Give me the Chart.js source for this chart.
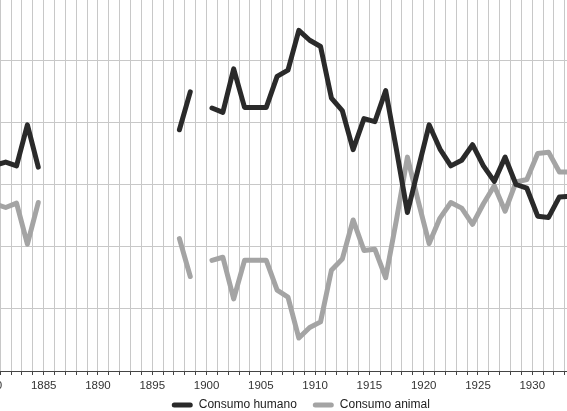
<!DOCTYPE html>
<html>
<head>
<meta charset="utf-8">
<script src="https://cdn.jsdelivr.net/npm/chart.js@4"></script>
<style>
    html, body { margin: 0; padding: 0; width: 567px; height: 411px; overflow: hidden; background: #fff; }
    #chart { position: absolute; left: -60px; top: -10px; }
</style>
</head>
<body>
<canvas id="chart" width="680" height="445"></canvas>
<script>
// years 1880..1933, null = no data
const years = [];
for (let y = 1880; y <= 1933; y++) years.push(y);

const humano = [
    53.1, 53.6, 53.0, 59.6, 52.8,                                 // 1880-1884
    null, null, null, null, null, null, null, null, null, null, null, null, // 1885-1896
    58.8, 64.9, null,                                             // 1897-1899
    62.3, 61.6, 68.6, 62.4, 62.4, 62.4, 67.4, 68.4, 74.8, 73.2,   // 1900-1909
    72.2, 63.9, 61.9, 55.6, 60.6, 60.1, 65.1, 55.5, 45.5, 52.6,   // 1910-1919
    59.6, 55.7, 53.0, 53.9, 56.4, 53.0, 50.5, 54.4, 50.0, 49.4,   // 1920-1929
    44.9, 44.7, 48.0, 48.1                                        // 1930-1933
];

const animal = [
    46.9, 46.3, 47.0, 40.4, 47.1,
    null, null, null, null, null, null, null, null, null, null, null, null,
    41.3, 35.2, null,
    37.8, 38.3, 31.6, 37.8, 37.8, 37.8, 33.0, 31.9, 25.3, 27.0,
    27.9, 36.2, 38.0, 44.3, 39.4, 39.6, 35.0, 44.4, 54.4, 47.3,
    40.5, 44.6, 47.1, 46.2, 43.6, 46.9, 49.8, 45.7, 50.4, 50.8,
    55.0, 55.2, 52.0, 52.0
];

const labelEvery = 5;
const MID_YEAR = 0.5; // values are plotted in the middle of each year

const FONT = "'Liberation Sans', Arial, sans-serif";

function points(values) {
    return years.map((yr, i) => ({ x: yr + MID_YEAR, y: values[i] }));
}

const lineStyle = {
    borderWidth: 5,
    borderCapStyle: 'round',
    borderJoinStyle: 'round',
    pointRadius: 0,
    tension: 0,
    spanGaps: false
};

// pull the legend a bit closer to the axis labels
const legendNudge = {
    id: 'legendNudge',
    afterLayout(chart) {
        chart.legend.top -= 13.8;
        chart.legend.bottom -= 13.8;
    }
};

new Chart(document.getElementById('chart').getContext('2d'), {
    type: 'line',
    data: {
        datasets: [
            { label: 'Consumo humano', data: points(humano), borderColor: '#2a2a2a', backgroundColor: '#2a2a2a', ...lineStyle },
            { label: 'Consumo animal', data: points(animal), borderColor: '#a4a4a4', backgroundColor: '#a4a4a4', ...lineStyle }
        ]
    },
    plugins: [legendNudge],
    options: {
        responsive: false,
        animation: false,
        devicePixelRatio: 1,
        layout: { padding: { left: 49.4, right: 7.8, top: 8, bottom: 0.2 } },
        plugins: {
            tooltip: { enabled: false },
            legend: {
                position: 'bottom',
                labels: {
                    boxWidth: 21,
                    boxHeight: 5,
                    useBorderRadius: true,
                    borderRadius: 2.5,
                    padding: 16,
                    color: '#222',
                    font: { family: FONT, size: 12 },
                    generateLabels: chart => Chart.defaults.plugins.legend.labels.generateLabels(chart)
                        .map(l => ({ ...l, lineWidth: 0 }))
                }
            }
        },
        scales: {
            x: {
                type: 'linear',
                min: 1880,
                max: 1934,
                ticks: {
                    stepSize: 1,
                    autoSkip: false,
                    maxRotation: 0,
                    padding: 4,
                    color: '#333',
                    font: { family: FONT, size: 11.5 },
                    callback: v => (v % labelEvery === 0 ? String(v) : '')
                },
                grid: { color: '#c8c8c8', tickColor: '#444', tickLength: 4 },
                border: { color: '#444', width: 1 }
            },
            y: {
                position: 'right',
                min: 20,
                max: 80,
                afterFit: s => { s.width = 36.5; },
                ticks: { stepSize: 10, display: false },
                grid: { color: '#c8c8c8', drawTicks: false },
                border: { display: false }
            }
        }
    }
});
</script>
</body>
</html>
